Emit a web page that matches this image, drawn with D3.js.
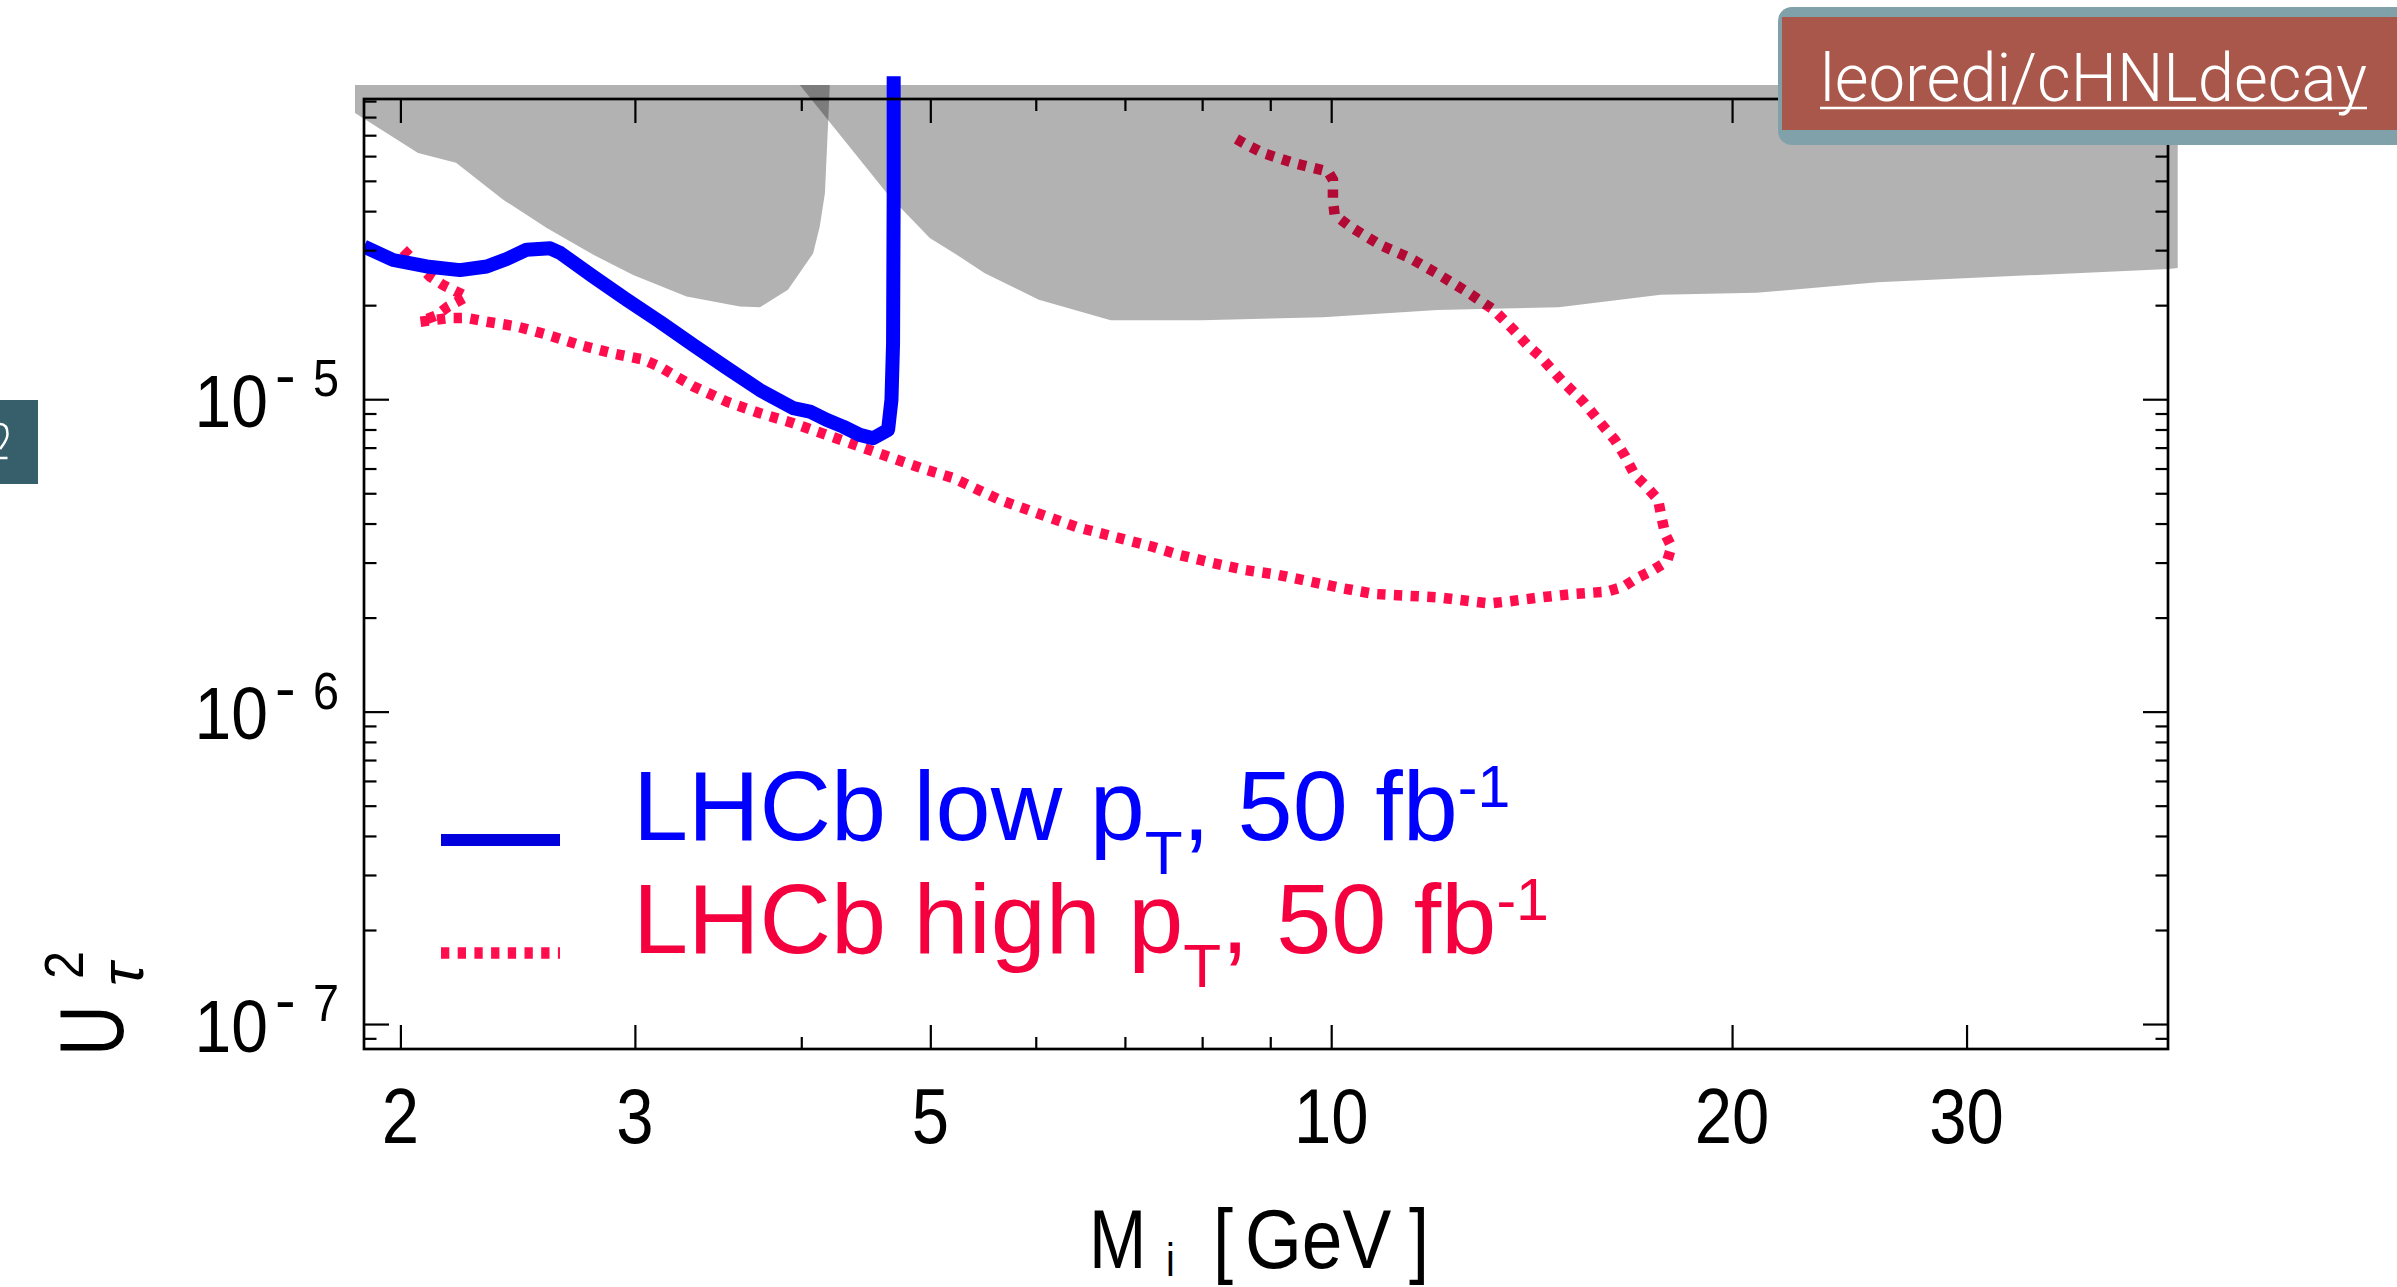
<!DOCTYPE html>
<html>
<head>
<meta charset="utf-8">
<script src="https://cdn.jsdelivr.net/npm/d3@7"></script>
<style>
  body { margin: 0; background: #fff; }
  svg { display: block; }
</style>
</head>
<body>
<div class="svg-content"></div>
<script>
// LHCb low pT, 50 fb^-1 (solid blue)
const lowPtMass = [1.878, 1.975, 2.093, 2.217, 2.322, 2.404, 2.488, 2.591, 2.636, 2.791, 2.958, 3.132, 3.318,
                   3.516, 3.724, 3.945, 4.060, 4.178, 4.300, 4.426, 4.529, 4.648, 4.675, 4.688, 4.693, 4.693];
const lowPtU2 = [3.08e-5, 2.79e-5, 2.66e-5, 2.59e-5, 2.66e-5, 2.81e-5, 3.01e-5, 3.04e-5, 2.94e-5, 2.47e-5, 2.08e-5,
                 1.77e-5, 1.49e-5, 1.26e-5, 1.07e-5, 9.36e-6, 9.13e-6, 8.59e-6, 8.17e-6, 7.69e-6, 7.50e-6, 7.98e-6,
                 9.95e-6, 1.51e-5, 4.58e-5, 1.08e-4];

// LHCb high pT, 50 fb^-1 (dotted red)
const highPtMass = [2.010, 2.105, 2.153, 2.243, 2.172, 2.131, 2.069, 2.179, 2.243, 2.322, 2.446, 2.576, 2.729, 2.890,
                    3.043, 3.132, 3.224, 3.318, 3.516, 3.724, 3.945, 4.178, 4.426, 4.688, 4.967, 5.198, 5.638, 6.437,
                    7.345, 7.697, 8.153, 8.613, 9.123, 9.636, 10.21, 10.78, 11.39, 12.06, 12.78, 13.15, 13.55, 14.35,
                    15.19, 16.10, 16.57, 16.95, 17.45, 17.87, 18.01, 17.81, 17.70, 17.60, 17.25, 16.90, 16.63, 16.33,
                    16.05, 15.46, 14.89, 14.35, 14.04, 13.70, 13.25, 12.64, 12.00, 11.46, 10.88, 10.33, 10.06, 10.03,
                    10.03, 9.947, 9.391, 8.893, 8.642, 8.465];
const highPtU2 = [3.01e-5, 2.47e-5, 2.32e-5, 2.13e-5, 1.98e-5, 1.86e-5, 1.77e-5, 1.82e-5, 1.82e-5, 1.77e-5, 1.71e-5,
                  1.61e-5, 1.49e-5, 1.40e-5, 1.34e-5, 1.27e-5, 1.18e-5, 1.10e-5, 9.82e-6, 9.02e-6, 8.38e-6, 7.69e-6,
                  7.05e-6, 6.47e-6, 5.94e-6, 5.60e-6, 4.76e-6, 3.90e-6, 3.37e-6, 3.17e-6, 2.99e-6, 2.84e-6, 2.74e-6,
                  2.61e-6, 2.48e-6, 2.38e-6, 2.35e-6, 2.32e-6, 2.25e-6, 2.22e-6, 2.25e-6, 2.32e-6, 2.38e-6, 2.42e-6,
                  2.51e-6, 2.67e-6, 2.84e-6, 3.02e-6, 3.37e-6, 3.72e-6, 4.21e-6, 4.76e-6, 5.25e-6, 5.72e-6, 6.55e-6,
                  7.41e-6, 8.08e-6, 9.82e-6, 1.15e-5, 1.37e-5, 1.49e-5, 1.67e-5, 1.93e-5, 2.21e-5, 2.53e-5, 2.83e-5,
                  3.12e-5, 3.57e-5, 3.89e-5, 4.35e-5, 5.04e-5, 5.35e-5, 5.69e-5, 6.13e-5, 6.52e-5, 6.85e-5];

// excluded regions (grey)
const excludedAMass = [1.849, 4.202, 4.190, 4.167, 4.130, 4.083, 3.909, 3.724, 3.597, 3.280, 2.991, 2.792, 2.576,
                       2.389, 2.202, 2.062, 1.849];
const excludedAU2 = [1.014e-4, 1.014e-4, 7.65e-5, 4.56e-5, 3.57e-5, 2.93e-5, 2.24e-5, 1.97e-5, 1.98e-5, 2.13e-5,
                     2.50e-5, 2.90e-5, 3.53e-5, 4.35e-5, 5.71e-5, 6.14e-5, 8.25e-5];
const excludedBMass = [3.990, 43.22, 43.22, 42.56, 25.73, 20.87, 17.68, 14.82, 12.02, 9.86, 7.995, 6.83, 6.032,
                       5.494, 5.261, 4.995, 4.648];
const excludedBU2 = [1.014e-4, 1.014e-4, 2.63e-5, 2.61e-5, 2.37e-5, 2.19e-5, 2.16e-5, 1.97e-5, 1.93e-5, 1.83e-5,
                     1.79e-5, 1.79e-5, 2.08e-5, 2.53e-5, 2.86e-5, 3.28e-5, 4.51e-5];

// ticks
const xMajorTicks = [2, 3, 5, 10, 20, 30];
const xMinorTicks = [4, 6, 7, 8, 9];
const yMajorTicks = [1e-7, 1e-6, 1e-5];
const yExponents = ["7", "6", "5"];
const yMinorTicks = [9e-8, 2e-7, 3e-7, 4e-7, 5e-7, 6e-7, 7e-7, 8e-7, 9e-7, 2e-6, 3e-6, 4e-6, 5e-6, 6e-6, 7e-6, 8e-6, 9e-6,
                     2e-5, 3e-5, 4e-5, 5e-5, 6e-5, 7e-5, 8e-5, 9e-5];

const legendNames = ["LHCb low p", "LHCb high p"];
const legendLumi = ", 50 fb";

const svgWidth = 2397;
const svgHeight = 1287;
const frame = { left: 364, right: 2168, top: 99, bottom: 1049 };

const sansFont = "'Liberation Sans', Arial, sans-serif";
const blue = "#0000ff";
const red = "#ff0d4d";
const redText = "#f5003f";

const xScale = d3.scaleLog()
                 .domain([1.878, 42.5])
                 .range([frame.left, frame.right]);

const yScale = d3.scaleLog()
                 .domain([8.32e-8, 9.14e-5])
                 .range([frame.bottom, frame.top]);

const zip = (a, b) => a.map((v, i) => [v, b[i]]);
const line = d3.line()
               .x(d => xScale(d[0]))
               .y(d => yScale(d[1]));

const svg = d3.select(".svg-content")
              .append("svg")
              .attr("width", svgWidth)
              .attr("height", svgHeight)
              .style("font-family", sansFont);

// condensed look of the axis lettering: squeeze Liberation Sans horizontally
const narrowText = (parent, x, y, size, str, anchor, sx) => {
  return parent.append("text")
               .attr("transform", "translate(" + x + "," + y + ") scale(" + (sx || 0.87) + ",1)")
               .attr("font-size", size)
               .attr("text-anchor", anchor || "start")
               .text(str);
};

svg.append("clipPath")
   .attr("id", "curve-clip")
   .append("rect")
   .attr("x", frame.left)
   .attr("y", 60)
   .attr("width", frame.right - frame.left)
   .attr("height", frame.bottom - 60);

// red dotted goes under the grey shading
svg.append("path")
   .attr("d", line(zip(highPtMass, highPtU2)))
   .attr("fill", "none")
   .attr("stroke", red)
   .attr("stroke-width", 10.5)
   .attr("stroke-dasharray", "8.3 8.4")
   .attr("clip-path", "url(#curve-clip)");

[[excludedAMass, excludedAU2], [excludedBMass, excludedBU2]].forEach(([m, u]) => {
  svg.append("path")
     .attr("d", line(zip(m, u)) + "Z")
     .attr("fill", "#000")
     .attr("fill-opacity", 0.3);
});

svg.append("path")
   .attr("d", line(zip(lowPtMass, lowPtU2)))
   .attr("fill", "none")
   .attr("stroke", blue)
   .attr("stroke-width", 14)
   .attr("stroke-linejoin", "round")
   .attr("clip-path", "url(#curve-clip)");

// frame + inward ticks
const addTicks = (axis, values, size, transform) => {
  const g = svg.append("g")
               .attr("transform", transform)
               .call(axis.tickValues(values).tickSize(-size).tickSizeOuter(0).tickFormat(""));
  g.select(".domain").remove();
  g.selectAll("line").attr("stroke", "#000").attr("stroke-width", 2.2);
};

addTicks(d3.axisBottom(xScale), xMajorTicks, 24, "translate(0," + frame.bottom + ")");
addTicks(d3.axisBottom(xScale), xMinorTicks, 12, "translate(0," + frame.bottom + ")");
addTicks(d3.axisTop(xScale), xMajorTicks, 24, "translate(0," + frame.top + ")");
addTicks(d3.axisTop(xScale), xMinorTicks, 12, "translate(0," + frame.top + ")");
addTicks(d3.axisLeft(yScale), yMajorTicks, 25, "translate(" + frame.left + ",0)");
addTicks(d3.axisLeft(yScale), yMinorTicks, 12.5, "translate(" + frame.left + ",0)");
addTicks(d3.axisRight(yScale), yMajorTicks, 25, "translate(" + frame.right + ",0)");
addTicks(d3.axisRight(yScale), yMinorTicks, 12.5, "translate(" + frame.right + ",0)");

svg.append("rect")
   .attr("x", frame.left)
   .attr("y", frame.top)
   .attr("width", frame.right - frame.left)
   .attr("height", frame.bottom - frame.top)
   .attr("fill", "none")
   .attr("stroke", "#000")
   .attr("stroke-width", 2.7);

// tick labels
xMajorTicks.forEach(v => {
  narrowText(svg, xScale(v), 1143, 78, String(v), "middle", 0.86);
});

yMajorTicks.forEach((v, i) => {
  const ty = yScale(v);
  narrowText(svg, 268, ty + 27.5, 75, "10", "end", 0.88);
  svg.append("text").attr("x", 275).attr("y", ty - 3).attr("font-size", 62).text("-");
  narrowText(svg, 313, ty - 3, 52, yExponents[i], "start", 0.9);
});

// axis titles
const yTitle = svg.append("g").attr("transform", "translate(123,1056) rotate(-90)");
narrowText(yTitle, 0, 0, 90, "U", "start", 0.78);
narrowText(yTitle, 77, -40, 56, "2", "start", 0.9);
yTitle.append("text")
      .attr("x", 70).attr("y", 20)
      .attr("font-size", 62)
      .attr("font-style", "italic")
      .text("τ");

narrowText(svg, 1089, 1268, 84, "M", "start", 0.82);
narrowText(svg, 1166, 1276, 46, "i", "start", 0.86);
narrowText(svg, 1213, 1268, 84, "[", "start", 0.86);
narrowText(svg, 1245, 1268, 84, "GeV", "start", 0.87);
narrowText(svg, 1409, 1268, 84, "]", "start", 0.86);

// legend
const legendRows = [
  { y: 840, color: "#0000dd", text: blue, width: 12, dash: null },
  { y: 953, color: red, text: redText, width: 11.7, dash: "8.3 8.4" }
];

legendRows.forEach((row, i) => {
  svg.append("line")
     .attr("x1", 441).attr("x2", 560)
     .attr("y1", row.y).attr("y2", row.y)
     .attr("stroke", row.color)
     .attr("stroke-width", row.width)
     .attr("stroke-dasharray", row.dash);

  const t = svg.append("text")
               .attr("x", 633)
               .attr("y", row.y)
               .attr("font-size", 99)
               .attr("fill", row.text);
  t.append("tspan").text(legendNames[i]);
  t.append("tspan").attr("font-size", 62).attr("dy", 34).text("T");
  t.append("tspan").attr("dy", -34).text(legendLumi);
  t.append("tspan").attr("font-size", 59).attr("dy", -33).text("-1");
});

// repo badge (top right)
svg.append("rect")
   .attr("x", 1778).attr("y", 7).attr("width", 660).attr("height", 138).attr("rx", 14)
   .attr("fill", "#80a1aa");
svg.append("rect")
   .attr("x", 1782).attr("y", 17).attr("width", 640).attr("height", 113)
   .attr("fill", "#a8574a");
svg.append("text")
   .attr("x", 1820).attr("y", 101)
   .attr("font-family", "Roboto, 'Liberation Sans', sans-serif")
   .attr("font-weight", 300)
   .attr("font-size", 66)
   .attr("textLength", 547)
   .attr("lengthAdjust", "spacingAndGlyphs")
   .attr("fill", "#fff")
   .text("leoredi/cHNLdecay");
svg.append("line")
   .attr("x1", 1820).attr("x2", 2367).attr("y1", 108).attr("y2", 108)
   .attr("stroke", "#fff").attr("stroke-width", 2.5);

// cut-off tab at the left edge (only a sliver of its glyph shows)
svg.append("rect")
   .attr("x", 0).attr("y", 400).attr("width", 38).attr("height", 84)
   .attr("fill", "#365f6b");
svg.append("path")
   .attr("d", "M0,424 C5,424 7.5,428 7.5,434 C7.5,440 3,445 0,449 M0,458 H7.5")
   .attr("fill", "none")
   .attr("stroke", "#fff")
   .attr("stroke-width", 2.5);
</script>
</body>
</html>
